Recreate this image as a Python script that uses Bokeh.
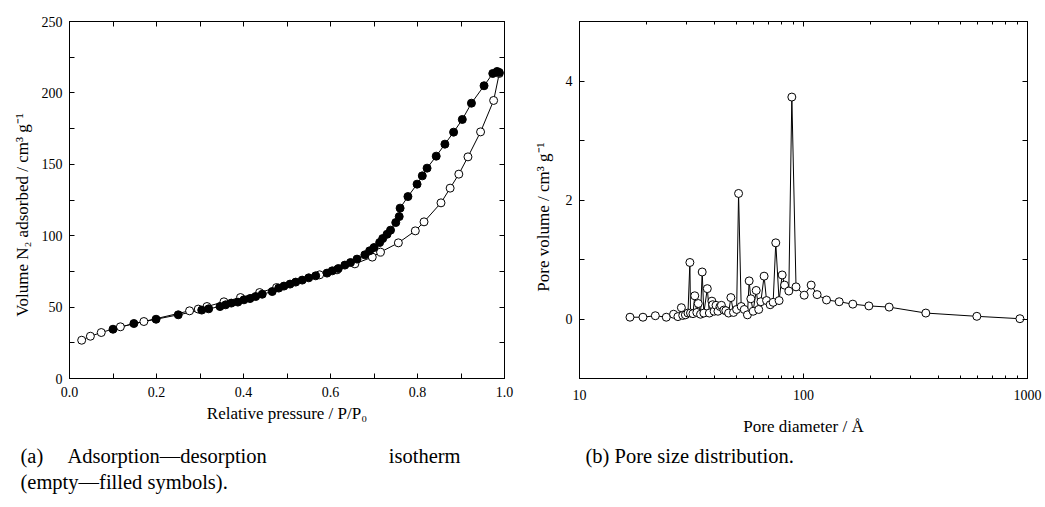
from bokeh.plotting import figure
from bokeh.layouts import row, column
from bokeh.models import (LinearAxis, LogAxis, FixedTicker, Range1d,
                          BasicTickFormatter, NumeralTickFormatter)
from bokeh.core.properties import value
from bokeh.embed import file_html
from bokeh.resources import INLINE

# ---------------- data ----------------
# (a) adsorption branch (empty symbols)
ads_p = [0.028, 0.048, 0.073, 0.117, 0.171, 0.276, 0.296, 0.316, 0.355, 0.393,
         0.437, 0.476, 0.575, 0.615, 0.656, 0.696, 0.715, 0.756, 0.795, 0.815,
         0.854, 0.875, 0.895, 0.916, 0.945, 0.975, 0.988]
ads_v = [26.8, 29.6, 32.2, 36.2, 39.9, 47.4, 48.6, 50.4, 53.7, 56.7,
         60.2, 63.7, 72.6, 76.1, 80.3, 85.0, 88.5, 95.0, 103.4, 109.7,
         123.0, 133.3, 143.1, 155.2, 172.7, 194.7, 213.6]
# (a) desorption branch (filled symbols)
des_p = [0.100, 0.148, 0.199, 0.250, 0.304, 0.320, 0.346, 0.359, 0.372, 0.387,
         0.401, 0.415, 0.428, 0.443, 0.466, 0.481, 0.493, 0.507, 0.520, 0.535,
         0.550, 0.566, 0.592, 0.604, 0.618, 0.633, 0.646, 0.661, 0.679, 0.690,
         0.700, 0.713, 0.720, 0.730, 0.738, 0.750, 0.758, 0.760, 0.778, 0.799,
         0.811, 0.822, 0.843, 0.863, 0.883, 0.903, 0.924, 0.953, 0.973, 0.983,
         0.988]
des_v = [34.5, 38.5, 41.5, 44.6, 47.9, 48.8, 50.4, 51.6, 52.8, 53.5,
         55.1, 56.0, 57.4, 59.0, 60.9, 63.3, 64.7, 66.1, 67.5, 68.9,
         70.5, 71.9, 73.8, 75.4, 77.0, 79.4, 81.2, 83.6, 86.6, 89.4,
         91.7, 95.2, 98.0, 101.0, 103.9, 109.2, 113.4, 119.3, 127.4, 136.1,
         141.9, 147.3, 155.7, 164.1, 172.5, 181.4, 192.8, 205.0, 213.6, 215.0,
         214.3]
# (b) pore size distribution
pore_d = [16.8, 19.2, 21.8, 24.4, 26.3, 27.5, 28.5, 28.9, 29.7, 30.5,
          31.1, 31.3, 32.1, 32.7, 33.4, 33.9, 34.7, 35.3, 35.9, 37.2,
          38.0, 39.0, 39.3, 39.9, 40.7, 41.5, 42.4, 43.0, 44.1, 45.0,
          46.3, 47.4, 48.7, 50.3, 51.3, 52.7, 54.4, 56.2, 57.2, 58.2,
          59.6, 61.5, 63.1, 64.5, 66.7, 68.4, 71.0, 73.2, 75.2, 77.8,
          80.3, 82.3, 86.0, 88.7, 92.6, 100.7, 108.2, 115.0, 126.7, 144.3,
          166.0, 195.8, 241.2, 351.6, 594.0, 925.0]
pore_v = [0.03, 0.03, 0.055, 0.03, 0.08, 0.04, 0.19, 0.06, 0.07, 0.10,
          0.95, 0.10, 0.09, 0.39, 0.11, 0.26, 0.08, 0.79, 0.10, 0.51,
          0.10, 0.30, 0.24, 0.13, 0.23, 0.13, 0.21, 0.23, 0.15, 0.14,
          0.10, 0.36, 0.11, 0.16, 2.11, 0.21, 0.16, 0.07, 0.64, 0.34,
          0.13, 0.48, 0.16, 0.29, 0.72, 0.31, 0.24, 0.28, 1.28, 0.31,
          0.74, 0.57, 0.47, 3.73, 0.54, 0.40, 0.57, 0.41, 0.32, 0.29,
          0.25, 0.22, 0.20, 0.10, 0.045, 0.005]

a_xticks = [0.0, 0.2, 0.4, 0.6, 0.8, 1.0]
a_xminor = [0.1, 0.3, 0.5, 0.7, 0.9]
a_yticks = [0, 50, 100, 150, 200, 250]
a_yminor = [25, 75, 125, 175, 225]
b_xticks = [10, 100, 1000]
b_xminor = [20, 30, 40, 50, 60, 70, 80, 90, 200, 300, 400, 500, 600, 700, 800, 900]
b_yticks = [0, 2, 4]
b_yminor = [-1, 1, 3, 5]

# captions (text, and where each piece starts on the page)
cap_a_left = ["(a)", "Adsorption\u2014desorption", "(empty\u2014filled symbols)."]
cap_a_left_x = [20, 67, 20]
cap_a_left_y = [455, 455, 481]
cap_a_right = ["isotherm"]
cap_a_right_x = [460]
cap_a_right_y = [455]
cap_b = ["(b) Pore size distribution."]
cap_b_x = [585]
cap_b_y = [455]

SERIF = "Liberation Serif"
TICK_SIZE = "14px"
LABEL_SIZE = "17px"
CAP_SIZE = "20.5px"
NB = "\u00a0"
PLOT_H = 442


def style_axis(ax, show_labels=True, minor_len=5):
    ax.major_tick_in = 5
    ax.major_tick_out = 0
    ax.minor_tick_in = minor_len
    ax.minor_tick_out = 0
    ax.axis_line_color = "black"
    ax.major_tick_line_color = "black"
    ax.minor_tick_line_color = "black"
    ax.major_label_text_font = SERIF
    ax.major_label_text_font_size = TICK_SIZE
    ax.major_label_text_color = "black"
    ax.axis_label_text_font = SERIF
    ax.axis_label_text_font_size = LABEL_SIZE
    ax.axis_label_text_font_style = "normal"
    ax.axis_label_text_color = "black"
    if not show_labels:
        ax.major_label_text_color = None
        ax.major_label_text_font_size = "1px"
        ax.major_label_standoff = 0


def base_style(p):
    p.xgrid.visible = False
    p.ygrid.visible = False
    p.outline_line_color = "black"
    p.outline_line_alpha = 1
    p.background_fill_color = "white"
    p.border_fill_color = "white"


# ---------------- (a) isotherm ----------------
p1 = figure(width=520, height=PLOT_H, x_range=Range1d(0, 1), y_range=Range1d(0, 250),
            output_backend="svg", toolbar_location=None,
            min_border_left=69, min_border_right=16, min_border_top=21,
            min_border_bottom=PLOT_H - 378)
base_style(p1)

xa = p1.xaxis[0]
xa.ticker = FixedTicker(ticks=a_xticks, minor_ticks=a_xminor)
xa.formatter = NumeralTickFormatter(format="0.0")
xa.axis_label = "Relative pressure / P/P\u2080"
style_axis(xa)
xa.major_label_standoff = 8
xa.axis_label_standoff = 4

ya = p1.yaxis[0]
ya.ticker = FixedTicker(ticks=a_yticks, minor_ticks=a_yminor)
ya.axis_label = "Volume N\u2082 adsorbed / cm\u00b3 g\u207b\u00b9" + NB * 7
style_axis(ya)
ya.major_label_standoff = 7
ya.axis_label_standoff = 7

top1 = LinearAxis(ticker=FixedTicker(ticks=a_xticks, minor_ticks=a_xminor))
style_axis(top1, show_labels=False)
p1.add_layout(top1, "above")
right1 = LinearAxis(ticker=FixedTicker(ticks=a_yticks, minor_ticks=a_yminor))
style_axis(right1, show_labels=False)
p1.add_layout(right1, "right")

p1.line(ads_p, ads_v, line_color="black", line_width=1)
p1.line(des_p, des_v, line_color="black", line_width=1)
p1.scatter(ads_p, ads_v, size=8, marker="circle", fill_color="white",
           line_color="black", line_width=1)
p1.scatter(des_p, des_v, size=8, marker="circle", fill_color="black",
           line_color="black", line_width=1)

# ---------------- (b) pore size distribution ----------------
p2 = figure(width=525, height=PLOT_H, x_axis_type="log",
            x_range=Range1d(10, 1000), y_range=Range1d(-1, 5),
            output_backend="svg", toolbar_location=None,
            min_border_left=59, min_border_right=18, min_border_top=18,
            min_border_bottom=PLOT_H - 382)
base_style(p2)

xb = p2.xaxis[0]
xb.ticker = FixedTicker(ticks=b_xticks, minor_ticks=b_xminor)
xb.formatter = BasicTickFormatter()
xb.axis_label = "Pore diameter / \u00c5"
style_axis(xb, minor_len=3)
xb.major_label_standoff = 11
xb.axis_label_standoff = 14

yb = p2.yaxis[0]
yb.ticker = FixedTicker(ticks=b_yticks, minor_ticks=b_yminor)
yb.axis_label = "Pore volume / cm\u00b3 g\u207b\u00b9" + NB * 8
style_axis(yb)
yb.major_label_standoff = 7
yb.axis_label_standoff = 10

top2 = LogAxis(ticker=FixedTicker(ticks=b_xticks, minor_ticks=b_xminor),
               formatter=BasicTickFormatter())
style_axis(top2, show_labels=False, minor_len=3)
p2.add_layout(top2, "above")
right2 = LinearAxis(ticker=FixedTicker(ticks=b_yticks, minor_ticks=b_yminor))
style_axis(right2, show_labels=False)
p2.add_layout(right2, "right")

p2.line(pore_d, pore_v, line_color="black", line_width=1)
p2.scatter(pore_d, pore_v, size=8, marker="circle", fill_color="white",
           line_color="black", line_width=1)


# ---------------- captions ----------------
def caption_fig(x0, x1):
    c = figure(width=x1 - x0, height=507 - PLOT_H,
               x_range=Range1d(x0, x1), y_range=Range1d(507, PLOT_H),
               output_backend="svg", toolbar_location=None,
               x_axis_location=None, y_axis_location=None, min_border=0)
    c.xgrid.visible = False
    c.ygrid.visible = False
    c.outline_line_color = None
    c.background_fill_color = "white"
    c.border_fill_color = "white"
    return c


txt_kw = dict(text_font=value(SERIF), text_font_size=value(CAP_SIZE),
              text_baseline="middle", text_color="black")

c1 = caption_fig(0, 520)
c1.text(x=cap_a_left_x, y=cap_a_left_y, text=cap_a_left, text_align="left", **txt_kw)
c1.text(x=cap_a_right_x, y=cap_a_right_y, text=cap_a_right, text_align="right", **txt_kw)

c2 = caption_fig(520, 1045)
c2.text(x=cap_b_x, y=cap_b_y, text=cap_b, text_align="left", **txt_kw)

layout = column(row(p1, p2), row(c1, c2))
open("out.html", "w").write(file_html(layout, INLINE))
